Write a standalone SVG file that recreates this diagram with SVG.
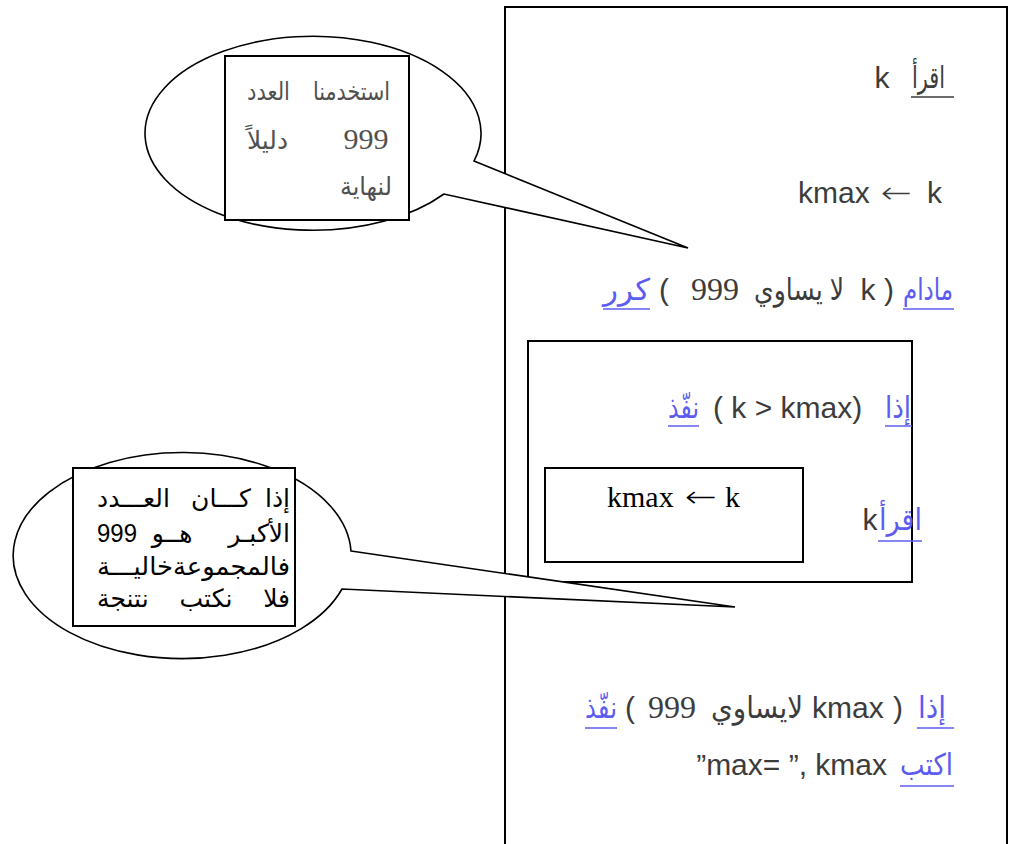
<svg xmlns="http://www.w3.org/2000/svg" width="1010" height="844" viewBox="0 0 1010 844">
<style>
.box{fill:#fff;stroke:#000;stroke-width:2}
.cl{fill:#fff;stroke:#000;stroke-width:1.6;stroke-linejoin:miter}
.g{font-family:"Liberation Sans","DejaVu Sans",sans-serif;font-size:30px;fill:#3c3c3c}
.b{font-family:"Liberation Sans","DejaVu Sans",sans-serif;font-size:30px;fill:#5c5cf0}
.t{font-family:"Liberation Serif","DejaVu Serif",serif;font-size:32px;fill:#3c3c3c}
.tb{font-family:"Liberation Serif","DejaVu Serif",serif;font-size:30px;fill:#000}
.ar{font-family:"DejaVu Sans",sans-serif;font-weight:200}
.cg{font-family:"Liberation Sans","DejaVu Sans",sans-serif;font-size:25px;fill:#505050}
.cb{font-family:"Liberation Sans","DejaVu Sans",sans-serif;font-size:25px;fill:#000}
.ul{stroke:#5c5cf0;stroke-width:1.5}
.ug{stroke:#3c3c3c;stroke-width:1.5}
</style>
<g id="program">
<rect class="box" x="505" y="7" width="502" height="860"/>
<text class="g" x="882" y="88" text-anchor="middle">k</text>
<text class="g" x="912" y="88" textLength="33" lengthAdjust="spacingAndGlyphs">اقرأ</text>
<line class="ug" x1="911" y1="97" x2="954" y2="97"/>
<text class="g" x="798" y="203">kmax</text>
<text class="g ar" x="881" y="203" textLength="31" lengthAdjust="spacingAndGlyphs">←</text>
<text class="g" x="927" y="203">k</text>
<text class="b" x="903" y="300" textLength="50" lengthAdjust="spacingAndGlyphs">مادام</text>
<line class="ul" x1="903" y1="309" x2="954" y2="309"/>
<text class="g" x="889" y="300" text-anchor="middle">)</text>
<text class="g" x="868" y="300" text-anchor="middle">k</text>
<text class="g" x="754" y="300" textLength="90" lengthAdjust="spacingAndGlyphs">لا يساوي</text>
<text class="t" x="715" y="300" text-anchor="middle">999</text>
<text class="g" x="664" y="300" text-anchor="middle">(</text>
<text class="b" x="603" y="300" textLength="47" lengthAdjust="spacingAndGlyphs">كرر</text>
<line class="ul" x1="603" y1="309" x2="650" y2="309"/>
</g>
<g id="loop-body">
<rect class="box" x="528" y="341" width="384" height="241"/>
<text class="b" x="885" y="418" textLength="26" lengthAdjust="spacingAndGlyphs">إذا</text>
<line class="ul" x1="885" y1="426" x2="912" y2="426"/>
<text class="g" x="713" y="418">( k &gt; kmax)</text>
<text class="b" x="668" y="418" textLength="31" lengthAdjust="spacingAndGlyphs">نفّذ</text>
<line class="ul" x1="668" y1="426" x2="699" y2="426"/>
<text class="g" x="870" y="530" text-anchor="middle">k</text>
<text class="b" x="879" y="530" textLength="43" lengthAdjust="spacingAndGlyphs">اقرأ</text>
<line class="ul" x1="878" y1="541" x2="922" y2="541"/>
</g>
<g id="assign">
<rect class="box" x="545" y="468" width="258" height="94"/>
<text class="tb" x="607" y="507">kmax</text>
<text class="tb ar" x="685" y="507" textLength="32" lengthAdjust="spacingAndGlyphs" style="font-family:'DejaVu Sans',sans-serif">←</text>
<text class="tb" x="725" y="507">k</text>
</g>
<g id="output">
<text class="b" x="918" y="718" textLength="28" lengthAdjust="spacingAndGlyphs">إذا</text>
<line class="ul" x1="917" y1="728" x2="954" y2="728"/>
<text class="g" x="898" y="718" text-anchor="middle">)</text>
<text class="g" x="812" y="718">kmax</text>
<text class="g" x="711" y="718" textLength="92" lengthAdjust="spacingAndGlyphs">لايساوي</text>
<text class="t" x="672" y="718" text-anchor="middle">999</text>
<text class="g" x="630" y="718" text-anchor="middle">(</text>
<text class="b" x="585" y="718" textLength="32" lengthAdjust="spacingAndGlyphs">نفّذ</text>
<line class="ul" x1="585" y1="728" x2="617" y2="728"/>
<text class="b" x="900" y="775" textLength="53" lengthAdjust="spacingAndGlyphs">اكتب</text>
<line class="ul" x1="900" y1="786" x2="954" y2="786"/>
<text class="g" x="887" y="775" text-anchor="end">”max= ”, kmax</text>
</g>
<g id="connectors">
<path class="cl" d="M474,161 L688,248 L444,194 A168,97 0 1 1 474,161 Z"/>
<path class="cl" d="M351,551 L735,607 L342,589 A169,103 0 1 1 351,551 Z"/>
</g>
<g id="note-top">
<rect class="box" x="225" y="56" width="184" height="164"/>
<text class="cg" x="313" y="100" textLength="77" lengthAdjust="spacingAndGlyphs">استخدمنا</text>
<text class="cg" x="247" y="100" textLength="43" lengthAdjust="spacingAndGlyphs">العدد</text>
<text class="t" x="366" y="149" text-anchor="middle" style="fill:#505050;font-size:30px">999</text>
<text class="cg" x="247" y="149" textLength="41" lengthAdjust="spacingAndGlyphs">دليلاً</text>
<text class="cg" x="340" y="195" textLength="52" lengthAdjust="spacingAndGlyphs">لنهاية</text>
</g>
<g id="note-bottom">
<rect class="box" x="73" y="468" width="222" height="158"/>
<text class="cb" x="290" y="507" text-anchor="end">إذا</text>
<text class="cb" x="221" y="507" text-anchor="middle">كـــان</text>
<text class="cb" x="97" y="507">العـــدد</text>
<text class="cb" x="290" y="542" text-anchor="end">الأكبـر</text>
<text class="cb" x="172" y="542" text-anchor="middle">هــو</text>
<text class="cb" x="97" y="542" textLength="40" lengthAdjust="spacingAndGlyphs">999</text>
<text class="cb" x="97" y="575" textLength="193" lengthAdjust="spacingAndGlyphs">فالمجموعةخاليـــة</text>
<text class="cb" x="290" y="607" text-anchor="end">فلا</text>
<text class="cb" x="206" y="607" text-anchor="middle">نكتب</text>
<text class="cb" x="97" y="607">نتنجة</text>
</g>
</svg>
